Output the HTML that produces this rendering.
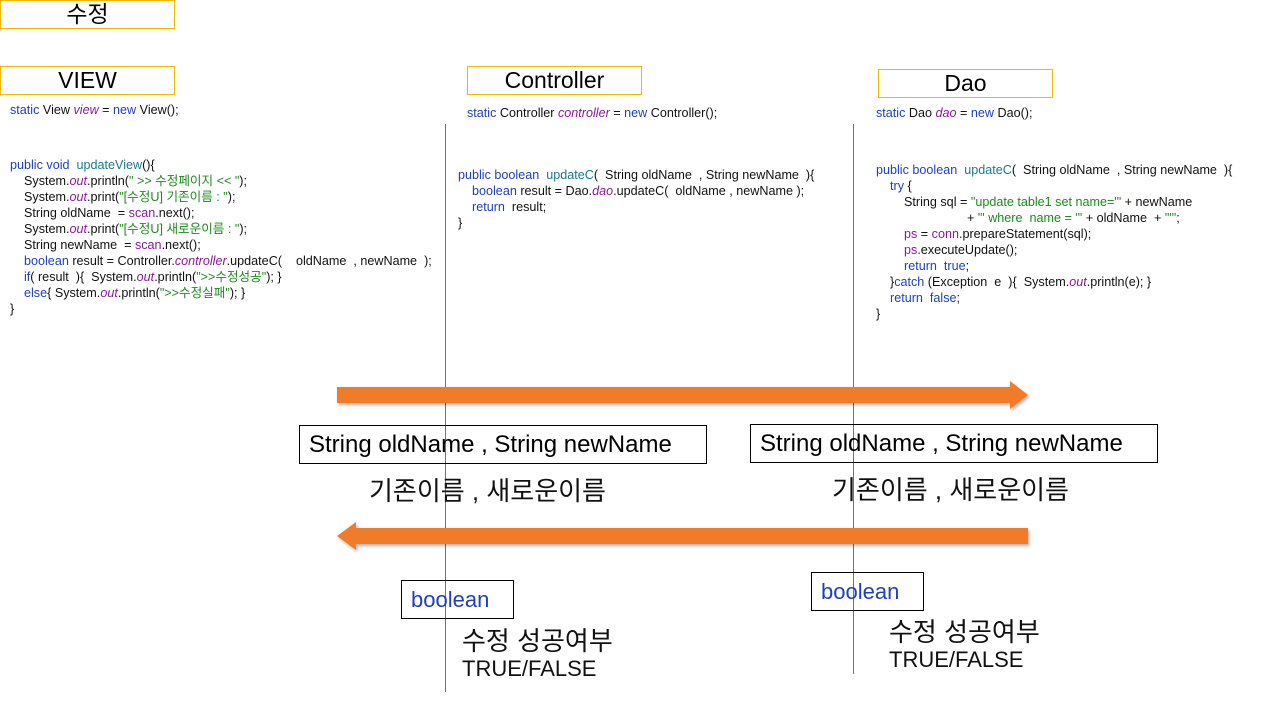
<!DOCTYPE html>
<html><head><meta charset="utf-8">
<style>
body{margin:0;width:1280px;height:720px;background:#fff;position:relative;overflow:hidden;font-family:"Liberation Sans","Noto Sans CJK KR",sans-serif;}
.t{position:absolute;border:1px solid #f5b800;box-sizing:border-box;text-align:center;font-size:23px;color:#000;}
.code{position:absolute;font-size:12.6px;line-height:16px;color:#111;white-space:pre;letter-spacing:0;}
.k{color:#1f3fbf}.f{color:#1a7a8a}.i{color:#8a1a9a;font-style:italic}.s{color:#1e8a1e}.p{color:#8a1a9a}
.box{position:absolute;border:1px solid #000;box-sizing:border-box;font-size:24px;padding-left:9px;white-space:pre;}
.vl{position:absolute;width:1px;background:#5a74b0;}
.big{position:absolute;font-size:26px;white-space:pre;color:#111;}
.tf{position:absolute;font-size:22px;white-space:pre;color:#111;}
</style></head><body>
<div class="t" style="left:0;top:0;width:175px;height:29px;line-height:27px;">수정</div>
<div class="t" style="left:0;top:66px;width:175px;height:29px;line-height:27px;">VIEW</div>
<div class="t" style="left:467px;top:66px;width:175px;height:29px;line-height:27px;">Controller</div>
<div class="t" style="left:878px;top:69px;width:175px;height:29px;line-height:27px;">Dao</div>

<div class="vl" style="left:445px;top:124px;height:568px;"></div>
<div class="vl" style="left:853px;top:124px;height:550px;"></div>

<div class="code" style="left:10px;top:102px;"><span class="k">static</span> View <span class="i">view</span> = <span class="k">new</span> View();</div>
<div class="code" style="left:10px;top:157px;"><span class="k">public void</span>  <span class="f">updateView</span>(){
    System.<span class="i">out</span>.println(<span class="s">" &gt;&gt; 수정페이지 &lt;&lt; "</span>);
    System.<span class="i">out</span>.print(<span class="s">"[수정U] 기존이름 : "</span>);
    String oldName  = <span class="p">scan</span>.next();
    System.<span class="i">out</span>.print(<span class="s">"[수정U] 새로운이름 : "</span>);
    String newName  = <span class="p">scan</span>.next();
    <span class="k">boolean</span> result = Controller.<span class="i">controller</span>.updateC(    oldName  , newName  );
    <span class="k">if</span>( result  ){  System.<span class="i">out</span>.println(<span class="s">"&gt;&gt;수정성공"</span>); }
    <span class="k">else</span>{ System.<span class="i">out</span>.println(<span class="s">"&gt;&gt;수정실패"</span>); }
}</div>

<div class="code" style="left:467px;top:105px;"><span class="k">static</span> Controller <span class="i">controller</span> = <span class="k">new</span> Controller();</div>
<div class="code" style="left:458px;top:167px;"><span class="k">public boolean</span>  <span class="f">updateC</span>(  String oldName  , String newName  ){
    <span class="k">boolean</span> result = Dao.<span class="i">dao</span>.updateC(  oldName , newName );
    <span class="k">return</span>  result;
}</div>

<div class="code" style="left:876px;top:105px;"><span class="k">static</span> Dao <span class="i">dao</span> = <span class="k">new</span> Dao();</div>
<div class="code" style="left:876px;top:162px;"><span class="k">public boolean</span>  <span class="f">updateC</span>(  String oldName  , String newName  ){
    <span class="k">try</span> {
        String sql = <span class="s">"update table1 set name='"</span> + newName
                          + <span class="s">"' where  name = '"</span> + oldName  + <span class="s">"'"</span>;
        <span class="p">ps</span> = <span class="p">conn</span>.prepareStatement(sql);
        <span class="p">ps</span>.executeUpdate();
        <span class="k">return  true</span>;
    }<span class="k">catch</span> (Exception  e  ){  System.<span class="i">out</span>.println(e); }
    <span class="k">return  false</span>;
}</div>

<svg style="position:absolute;left:0;top:0" width="1280" height="720">
<defs><filter id="sh"><feDropShadow dx="1.5" dy="2" stdDeviation="1.5" flood-color="#000" flood-opacity="0.3"/></filter></defs>
<polygon filter="url(#sh)" fill="#f07c2a" points="337,387 1010,387 1010,381 1028,395 1010,409 1010,403 337,403"/>
<polygon filter="url(#sh)" fill="#f07c2a" points="1028,528 356,528 356,522 337,536 356,550 356,544 1028,544"/>
</svg>

<div class="box" style="left:299px;top:425px;width:408px;height:39px;line-height:37px;">String oldName , String newName</div>
<div class="box" style="left:750px;top:424px;width:408px;height:39px;line-height:37px;">String oldName , String newName</div>
<div class="big" style="left:369px;top:471px;">기존이름 , 새로운이름</div>
<div class="big" style="left:832px;top:470px;">기존이름 , 새로운이름</div>

<div class="box" style="left:401px;top:580px;width:113px;height:39px;line-height:37px;color:#1f3fbf;font-size:22px;">boolean</div>
<div class="box" style="left:811px;top:572px;width:113px;height:39px;line-height:37px;color:#1f3fbf;font-size:22px;">boolean</div>
<div class="big" style="left:462px;top:621px;">수정 성공여부</div>
<div class="tf" style="left:462px;top:656px;">TRUE/FALSE</div>
<div class="big" style="left:889px;top:612px;">수정 성공여부</div>
<div class="tf" style="left:889px;top:647px;">TRUE/FALSE</div>
</body></html>
